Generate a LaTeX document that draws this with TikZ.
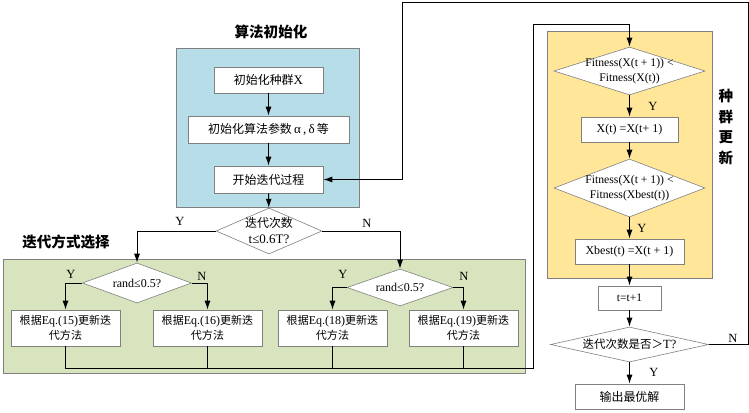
\documentclass[tikz,border=0pt]{standalone}
\usepackage{fontspec}
\setmainfont{Liberation Serif}
\newfontfamily\cjk[Scale=0.92]{Noto Sans CJK SC}
\usetikzlibrary{shapes.geometric,arrows.meta}
\newcommand\zh[1]{{\cjk #1}}
\definecolor{bluebg}{RGB}{183,221,232}
\definecolor{greenbg}{RGB}{215,228,189}
\definecolor{yellowbg}{RGB}{255,230,153}
\definecolor{edgegray}{RGB}{128,128,128}
\begin{document}
\begin{tikzpicture}[x=1pt,y=-1pt,
  bgbox/.style={draw=edgegray,line width=0.6pt},
  stepbox/.style={draw=edgegray,line width=0.6pt,fill=white,inner sep=1pt,align=center,font=\fontsize{12}{14.5}\selectfont},
  topbox/.style={stepbox,font=\fontsize{13}{15}\selectfont},
  dia/.style={diamond,draw=edgegray,line width=0.6pt,fill=white,inner sep=0pt},
  lab/.style={align=center,inner sep=0pt,font=\fontsize{12}{15}\selectfont},
  yn/.style={inner sep=0pt,font=\fontsize{12.5}{14}\selectfont},
  title/.style={inner sep=0pt,font=\cjk\bfseries\fontsize{15.8}{20.6}\selectfont},
  arr/.style={draw=black,line width=1pt,-{Latex[length=9pt,width=6pt]}},
  conn/.style={draw=black,line width=1pt}
]
\useasboundingbox (0,0) rectangle (749,412);

% background panels
\fill[bluebg] (176,48) rectangle (359,207);
\draw[bgbox] (176,48) rectangle (359,207);
\fill[greenbg] (3,259) rectangle (525,373);
\draw[bgbox] (3,259) rectangle (525,373);
\fill[yellowbg] (547,31) rectangle (712,278);
\draw[bgbox] (547,31) rectangle (712,278);

% titles
\node[title] (t1) at (271,32) {算法初始化};
\node[title] (t2) at (66,242) {迭代方式选择};
\node[title,align=center] (t3) at (726,127) {种\\群\\更\\新};

% initialization
\node[topbox,minimum width=109pt,minimum height=26pt] (b1) at (268.5,80) {\zh{初始化种群}X};
\node[topbox,minimum width=161pt,minimum height=27pt] (b2) at (268.5,129.5) {\zh{初始化算法参数}\,α\,,\,δ\,\zh{等}};
\node[topbox,minimum width=109pt,minimum height=27pt] (b3) at (268.5,179.5) {\zh{开始迭代过程}};

\node[dia,minimum width=106pt,minimum height=46pt,
  label={[lab,font=\fontsize{13}{16}\selectfont]center:{\zh{迭代次数}\\t≤0.6T?}}] (d0) at (269,231) {};

% iteration selection
\node[dia,minimum width=109pt,minimum height=40pt,
  label={[lab]center:{rand≤0.5?}}] (dL) at (137,283) {};
\node[dia,minimum width=106pt,minimum height=37pt,
  label={[lab]center:{rand≤0.5?}}] (dR) at (400,287.5) {};

\node[stepbox,minimum width=109pt,minimum height=36pt] (B15) at (65.5,328) {\zh{根据}Eq.(15)\zh{更新迭}\\\zh{代方法}};
\node[stepbox,minimum width=109pt,minimum height=36pt] (B16) at (207.5,328) {\zh{根据}Eq.(16)\zh{更新迭}\\\zh{代方法}};
\node[stepbox,minimum width=109pt,minimum height=36pt] (B18) at (332.5,328) {\zh{根据}Eq.(18)\zh{更新迭}\\\zh{代方法}};
\node[stepbox,minimum width=109pt,minimum height=36pt] (B19) at (463.5,328) {\zh{根据}Eq.(19)\zh{更新迭}\\\zh{代方法}};

% population update
\node[dia,minimum width=151pt,minimum height=48pt,
  label={[lab,font=\fontsize{11.7}{15}\selectfont]center:{Fitness(X(t + 1)) <\\Fitness(X(t))}}] (fd1) at (629.5,71) {};
\node[stepbox,minimum width=97pt,minimum height=25pt] (bx1) at (629.5,129.5) {X(t) =X(t+ 1)};
\node[dia,minimum width=151pt,minimum height=58pt,
  label={[lab,font=\fontsize{11.7}{15}\selectfont]center:{Fitness(X(t + 1)) <\\Fitness(Xbest(t))}}] (fd2) at (629.5,188) {};
\node[stepbox,minimum width=109pt,minimum height=25pt] (bx2) at (629.5,251.5) {Xbest(t) =X(t + 1)};
\node[stepbox,minimum width=63pt,minimum height=24pt,font=\fontsize{11.5}{14}\selectfont] (bt) at (629.5,298) {t=t+1};
\node[dia,minimum width=158pt,minimum height=35pt,
  label={[lab,font=\fontsize{12.5}{14}\selectfont]center:{\zh{迭代次数是否＞}T?}}] (dE) at (629.5,344.5) {};
\node[stepbox,minimum width=109pt,minimum height=25pt,font=\fontsize{13}{15}\selectfont] (out) at (629.5,396.5) {\zh{输出最优解}};

% Y / N labels
\node[yn] (y0) at (180,221) {Y};
\node[yn] (n0) at (367,223) {N};
\node[yn] (y1) at (71,274) {Y};
\node[yn] (n1) at (202,276) {N};
\node[yn] (y2) at (343,274) {Y};
\node[yn] (n2) at (464,276) {N};
\node[yn] (y3) at (653,106) {Y};
\node[yn] (y4) at (642,228) {Y};
\node[yn] (y5) at (654,372) {Y};
\node[yn] (n5) at (733,338) {N};

% connectors
\draw[arr] (b1) -- (b2);
\draw[arr] (b2) -- (b3);
\draw[arr] (b3) -- (d0);
\draw[arr] (d0.west) -| (dL.north);
\draw[arr] (d0.east) -| (dR.north);
\draw[arr] (dL.west) -| (B15.north);
\draw[arr] (dL.east) -| (B16.north);
\draw[arr] (dR.west) -| (B18.north);
\draw[arr] (dR.east) -| (B19.north);

\coordinate (br) at (533,368);
\coordinate (tr) at (533,25);
\draw[arr] (B15.south) |- (br) -- (tr) -| (fd1.north);
\draw[conn] (B16.south) -- (B16.south |- br);
\draw[conn] (B18.south) -- (B18.south |- br);
\draw[conn] (B19.south) -- (B19.south |- br);

\draw[arr] (fd1) -- (bx1);
\draw[arr] (bx1) -- (fd2);
\draw[arr] (fd2) -- (bx2);
\draw[arr] (bx2) -- (bt);
\draw[arr] (bt) -- (dE);
\draw[arr] (dE) -- (out);

\coordinate (l1) at (748,344.5);
\coordinate (l2) at (748,3);
\coordinate (l3) at (402,3);
\draw[arr] (dE.east) -- (l1) -- (l2) -- (l3) |- (b3.east);
\end{tikzpicture}
\end{document}
